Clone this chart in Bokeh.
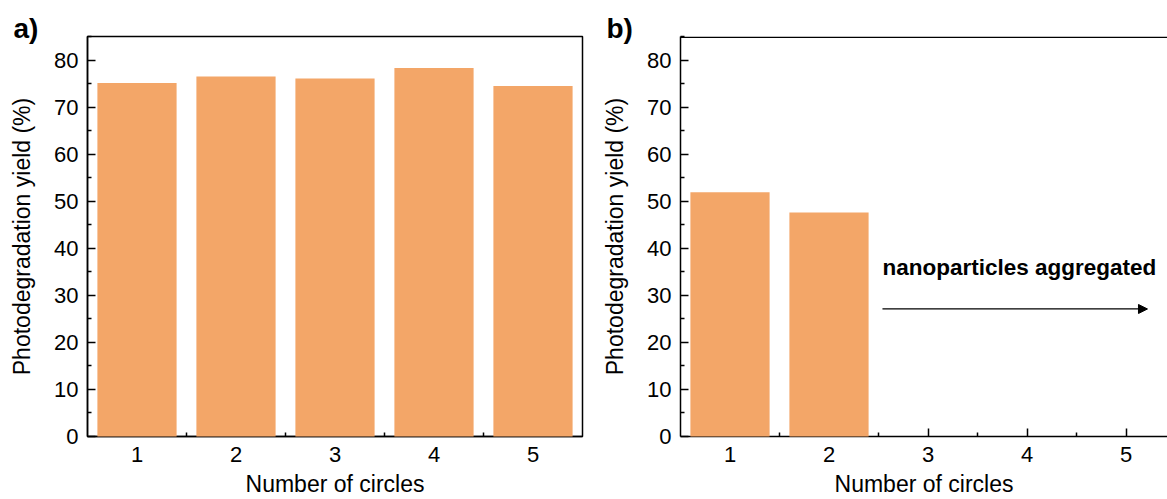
from bokeh.plotting import figure
from bokeh.layouts import row
from bokeh.models import (FixedTicker, Range1d, Label, Arrow, NormalHead,
                          ColumnDataSource, Title, Span)
from bokeh.embed import file_html
from bokeh.resources import INLINE

# ---- data ----
cycles = [1, 2, 3, 4, 5]
tick_labels = ["1", "2", "3", "4", "5"]
yield_a = [75.1, 76.5, 76.1, 78.3, 74.5]
cycles_b = [1, 2]
yield_b = [51.9, 47.6]
y_ticks = [0, 10, 20, 30, 40, 50, 60, 70, 80]
y_minor = [5, 15, 25, 35, 45, 55, 65, 75, 85]
x_minor = [1.5, 2.5, 3.5, 4.5]
annotation = "nanoparticles aggregated"
y_title = "Photodegradation yield (%)"
x_title = "Number of circles"

BAR = "#F3A668"
FONT = "Liberation Sans"
LW = 1.5


def style_axes(p):
    xa = p.below[0]
    ya = p.left[0]
    for ax in (xa, ya):
        ax.axis_line_width = LW
        ax.major_tick_line_width = LW
        ax.minor_tick_line_width = LW
        ax.major_tick_in = 8
        ax.major_tick_out = 0
        ax.minor_tick_in = 4
        ax.minor_tick_out = 0
        ax.major_label_text_font = FONT
        ax.major_label_text_font_size = "22px"
        ax.major_label_text_color = "black"
        ax.axis_label_text_font = FONT
        ax.axis_label_text_font_size = "23px"
        ax.axis_label_text_font_style = "normal"
        ax.axis_label_text_color = "black"
    xa.ticker = FixedTicker(ticks=cycles, minor_ticks=x_minor)
    xa.major_label_overrides = {c: t for c, t in zip(cycles, tick_labels)}
    xa.major_label_standoff = 10
    xa.axis_label_standoff = 6
    xa.axis_label = x_title
    ya.ticker = FixedTicker(ticks=y_ticks, minor_ticks=y_minor)
    ya.major_label_standoff = 9
    ya.axis_label_standoff = 16
    ya.axis_label = y_title
    p.xgrid.visible = False
    p.ygrid.visible = False


def make_panel(width, border_left, border_right, x_end, xs, ys, letter, outline):
    p = figure(width=width, height=499, x_range=Range1d(0.5, x_end),
               y_range=Range1d(0, 85), output_backend="svg",
               toolbar_location=None, min_border_left=border_left,
               min_border_right=border_right, min_border_top=36,
               min_border_bottom=62)
    p.background_fill_color = "white"
    p.border_fill_color = "white"
    if outline:
        p.outline_line_color = "black"
        p.outline_line_width = LW
    else:
        p.outline_line_color = None
        p.add_layout(Span(location=85 - 0.75 / 4.7176, dimension="width",
                          line_color="black", line_width=LW))
    src = ColumnDataSource(dict(x=xs, y=ys))
    p.vbar(x="x", top="y", bottom=0, width=0.8, source=src,
           fill_color=BAR, line_color=None, level="overlay")
    style_axes(p)
    p.title = Title(text=letter, align="left", offset=-74, standoff=-14,
                    text_font=FONT, text_font_size="28px",
                    text_font_style="bold", text_color="black")
    return p


pa = make_panel(598, 87, 16, 5.5, cycles, yield_a, "a)", True)
pb = make_panel(569, 82, 0, 0.5 + 487 / 99.0, cycles_b, yield_b, "b)", False)

pb.add_layout(Label(x=2.54, y=36.0, text=annotation, text_font=FONT,
                    text_font_size="22.5px", text_font_style="bold",
                    text_baseline="middle", text_color="black"))
pb.add_layout(Arrow(end=NormalHead(size=9, fill_color="black", line_color="black"),
                    x_start=2.54, y_start=27.1, x_end=5.217, y_end=27.1,
                    line_width=1.2, line_color="black"))

layout = row(pa, pb)
open("out.html", "w").write(file_html(layout, INLINE))
